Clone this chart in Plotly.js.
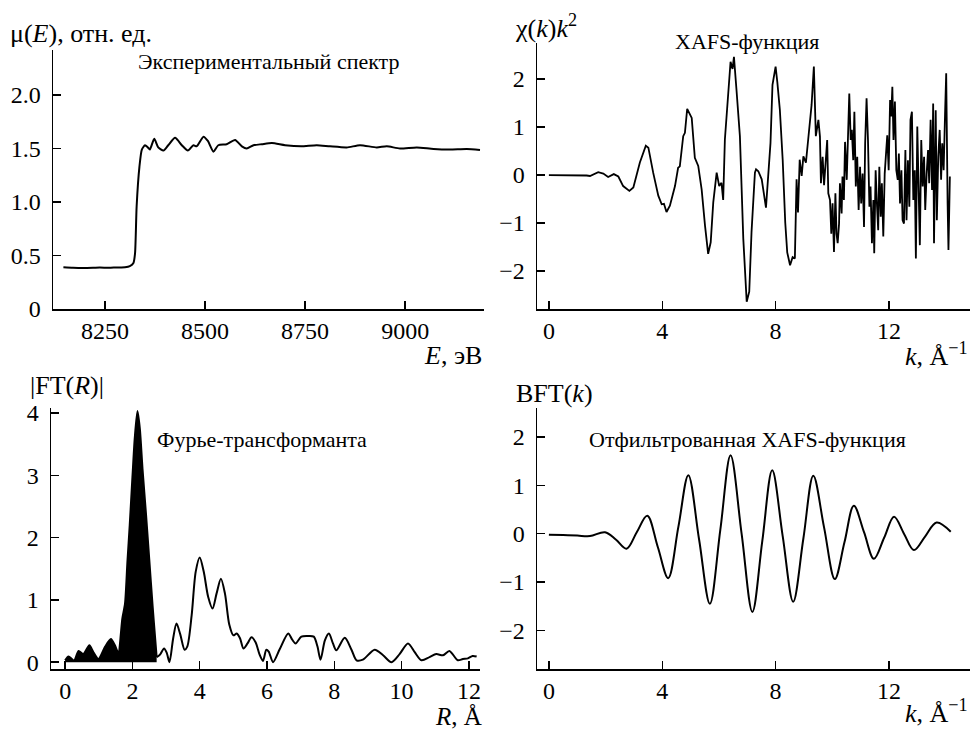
<!DOCTYPE html>
<html>
<head>
<meta charset="utf-8">
<script src="https://cdn.plot.ly/plotly-3.0.1.min.js"></script>
<style>html,body{margin:0;padding:0;background:#fff;}#chart{width:971px;height:729px;}</style>
</head>
<body>
<div id="chart"></div>
<script>
// ---- Panel (a): experimental spectrum mu(E)
const energyEV = [8146, 8170, 8196, 8220, 8237, 8260, 8279, 8300, 8312, 8321, 8325, 8329, 8336, 8342, 8350, 8357, 8362, 8373, 8383, 8396, 8408, 8425, 8442, 8457, 8471, 8479, 8496, 8507, 8521, 8533, 8554, 8575, 8592, 8604, 8621, 8642, 8667, 8700, 8740, 8779, 8812, 8854, 8887, 8929, 8954, 8987, 9029, 9071, 9112, 9154, 9187];
const muE = [0.39, 0.385, 0.383, 0.385, 0.387, 0.385, 0.388, 0.39, 0.40, 0.43, 0.52, 0.96, 1.33, 1.49, 1.53, 1.51, 1.49, 1.59, 1.51, 1.48, 1.53, 1.60, 1.53, 1.48, 1.53, 1.52, 1.61, 1.57, 1.47, 1.53, 1.54, 1.58, 1.52, 1.50, 1.53, 1.54, 1.55, 1.53, 1.52, 1.53, 1.52, 1.51, 1.53, 1.51, 1.52, 1.50, 1.51, 1.495, 1.49, 1.495, 1.486];

// ---- Panel (b): XAFS function chi(k)k^2
const kXafs = [0, 0.5, 1.0, 1.33, 1.45, 1.74, 1.92, 2.09, 2.29, 2.45, 2.62, 2.84, 2.98, 3.09, 3.21, 3.42, 3.51, 3.68, 3.86, 3.98, 4.06, 4.15, 4.27, 4.45, 4.56, 4.62, 4.74, 4.80, 4.88, 5.04, 5.15, 5.27, 5.39, 5.51, 5.62, 5.71, 5.80, 5.92, 6.01, 6.09, 6.15, 6.21, 6.31, 6.41, 6.48, 6.53, 6.62, 6.74, 6.86, 6.98, 7.07, 7.15, 7.27, 7.31, 7.39, 7.51, 7.66, 7.74, 7.82, 7.89, 8.0, 8.06, 8.15, 8.25, 8.34, 8.41, 8.51, 8.60, 8.68, 8.74, 8.79, 8.85, 8.92, 8.98, 9.07, 9.15, 9.21, 9.27, 9.35, 9.42, 9.51,
  9.565, 9.60, 9.66, 9.71, 9.765, 9.82, 9.86, 9.92, 9.965, 10.01,
  10.06, 10.11, 10.15, 10.19, 10.24, 10.27, 10.33, 10.36, 10.41, 10.45,
  10.51, 10.55, 10.60, 10.65, 10.69, 10.74, 10.78, 10.83, 10.88, 10.93,
  10.98, 11.02, 11.07, 11.12, 11.16, 11.21, 11.26, 11.31, 11.35, 11.40,
  11.45, 11.48, 11.53, 11.58, 11.62, 11.66, 11.71, 11.75, 11.80, 11.85,
  11.89, 11.94, 11.99, 12.04, 12.08, 12.12, 12.16, 12.21, 12.26, 12.31,
  12.35, 12.39, 12.44, 12.48, 12.53, 12.58, 12.62, 12.67, 12.72, 12.76,
  12.81, 12.86, 12.91, 12.95, 13.0, 13.05, 13.09, 13.14, 13.19, 13.24,
  13.28, 13.33, 13.38, 13.42, 13.47, 13.52, 13.56, 13.59, 13.65, 13.69,
  13.74, 13.79, 13.84, 13.88, 13.93, 13.98, 14.02, 14.07, 14.10, 14.15];
const chiK2 = [0, 0, -0.01, -0.01, -0.02, 0.06, 0.03, -0.04, 0.02, -0.03, -0.23, -0.33, -0.26, -0.02, 0.26, 0.61, 0.57, 0.05, -0.43, -0.61, -0.60, -0.77, -0.64, -0.23, 0.15, 0.18, 0.81, 0.88, 1.38, 1.19, 0.36, 0.19, -0.30, -1.06, -1.64, -1.40, -0.57, 0.05, -0.23, -0.16, -0.52, 0.74, 1.57, 2.36, 2.21, 2.46, 1.77, 0.81, -1.33, -2.64, -2.43, -1.19, 0.05, 0.12, 0.08, -0.09, -0.68, 0.05, 0.67, 1.88, 2.26, 1.94, 1.36, 0.32, -0.99, -1.61, -1.88, -1.71, -1.74, -0.09, -0.78, 0.32, -0.02, 0.39, 0.26, 0.74, 1.15, 1.46, 2.26, 0.81, 1.15,
  0.80, -0.17, 0.38, -0.21, 0.17, 0.73, -0.38, -0.52, -1.22, -0.59,
  -1.60, -0.38, -1.22, -1.42, -1.01, -0.17, -0.80, -0.03, -0.52, 0.69,
  -0.10, 1.01, 1.70, 0.73, 0.94, 0.31, 1.32, -0.24, 0.38, -0.73,
  0.17, -0.59, 0.03, -1.08, 0.66, 1.60, 0.73, -0.66, -0.24, -1.42,
  -0.52, -1.63, 0.10, -0.66, -1.15, 0.17, -0.87, -0.17, -1.28, 0.03,
  0.45, 0.83, 0.10, 1.56, 1.22, 1.84, 0.73, 1.53, 0.10, -0.10,
  0.45, -0.59, 0.10, -0.94, -1.01, 0.52, -0.94, 0.31, -0.66, 1.15,
  1.32, -0.52, 0.10, -1.74, 1.01, -0.87, -1.46, 0.73, -0.24, 0.38,
  -0.73, 0.03, 0.52, -0.17, 1.15, -0.31, 1.49, -1.42, 1.35, -0.94,
  0.38, 0.94, -0.10, 0.66, 0.10, 1.28, 2.12, -0.59, -1.56, -0.03];

// ---- Panel (c): Fourier transform |FT(R)| (filled part = first shell)
const rFilled = [0.0, 0.10, 0.20, 0.27, 0.40, 0.54, 0.72, 0.84, 0.99, 1.19, 1.36, 1.48, 1.58, 1.70, 1.78, 1.85, 1.92, 2.0, 2.07, 2.15, 2.22, 2.30, 2.40, 2.50, 2.60, 2.68, 2.72];
const ftFilled = [0.03, 0.09, 0.05, 0.02, 0.18, 0.13, 0.27, 0.16, 0.05, 0.25, 0.37, 0.27, 0.15, 0.70, 0.94, 1.6, 2.2, 2.97, 3.6, 4.03, 3.75, 3.1, 2.4, 1.65, 0.9, 0.35, 0.08];
const rRest = [2.72, 2.82, 2.94, 3.02, 3.10, 3.21, 3.31, 3.42, 3.55, 3.63, 3.76, 3.88, 4.0, 4.12, 4.25, 4.38, 4.50, 4.63, 4.75, 4.88, 5.0, 5.1, 5.2, 5.3, 5.42, 5.54, 5.66, 5.78, 5.88, 5.98, 6.05, 6.18, 6.38, 6.63, 6.75, 6.85, 7.02, 7.22, 7.39, 7.50, 7.59, 7.72, 7.84, 7.96, 8.06, 8.31, 8.51, 8.66, 8.85, 9.20, 9.45, 9.70, 9.94, 10.19, 10.39, 10.59, 10.83, 11.03, 11.23, 11.42, 11.67, 11.82, 11.97, 12.11, 12.23];
const ftRest = [0.08, 0.12, 0.22, 0.15, 0.0, 0.38, 0.62, 0.45, 0.20, 0.25, 0.75, 1.45, 1.68, 1.45, 1.05, 0.86, 1.1, 1.34, 1.1, 0.6, 0.43, 0.46, 0.38, 0.22, 0.30, 0.40, 0.32, 0.12, 0.02, 0.20, 0.17, 0.0, 0.21, 0.46, 0.36, 0.30, 0.41, 0.42, 0.41, 0.25, 0.04, 0.35, 0.46, 0.30, 0.19, 0.39, 0.20, 0.03, 0.04, 0.20, 0.11, 0.0, 0.13, 0.30, 0.16, 0.03, 0.08, 0.13, 0.11, 0.18, 0.03, 0.05, 0.06, 0.10, 0.09];

// ---- Panel (d): filtered XAFS function BFT(k)
const kBft = [0, 0.5, 1.0, 1.45, 1.98, 2.36, 2.74, 3.1, 3.47, 3.84, 4.21, 4.57, 4.92, 5.30, 5.68, 6.05, 6.41, 6.80, 7.18, 7.53, 7.88, 8.25, 8.62, 8.98, 9.33, 9.71, 10.09, 10.43, 10.76, 11.12, 11.47, 11.83, 12.18, 12.53, 12.88, 13.28, 13.68, 14.18];
const bftK = [-0.02, -0.03, -0.04, -0.05, 0.03, -0.12, -0.31, 0.03, 0.37, -0.27, -0.92, 0.145, 1.21, -0.12, -1.45, 0.085, 1.62, 0.0, -1.62, -0.155, 1.31, -0.05, -1.41, -0.1, 1.20, 0.13, -0.94, -0.18, 0.58, 0.03, -0.52, -0.085, 0.35, 0.0, -0.34, -0.055, 0.23, 0.04];

// ---- Tick labels
const tickE = [8250, 8500, 8750, 9000];
const tickMuVals = [0, 0.5, 1.0, 1.5, 2.0];
const tickMuText = ['0', '0.5', '1.0', '1.5', '2.0'];
const tickKVals = [0, 4, 8, 12];
const tickChiVals = [-2, -1, 0, 1, 2];
const tickChiText = ['\u22122', '\u22121', '0', '1', '2'];
const tickRVals = [0, 2, 4, 6, 8, 10, 12];
const tickFTVals = [0, 1, 2, 3, 4];

const W = 971, H = 729;
const px = x => x / W;
const py = y => 1 - y / H;
const serif = 'Liberation Serif';
const tickFont = {family: serif, size: 24, color: '#000'};

function axisBase(extra) {
  return Object.assign({
    showline: true, linecolor: '#000', linewidth: 1.5, mirror: false,
    showgrid: false, zeroline: false,
    ticks: 'inside', ticklen: 8, tickwidth: 1.5, tickcolor: '#000',
    tickfont: tickFont, fixedrange: true
  }, extra);
}

const traces = [
  {x: energyEV, y: muE, xaxis: 'x', yaxis: 'y', mode: 'lines', line: {color: '#000', width: 2, shape: 'spline', smoothing: 0.6}, hoverinfo: 'skip'},
  {x: kXafs, y: chiK2, xaxis: 'x2', yaxis: 'y2', mode: 'lines', line: {color: '#000', width: 1.8}, hoverinfo: 'skip'},
  {x: rFilled, y: ftFilled, xaxis: 'x3', yaxis: 'y3', mode: 'lines', fill: 'tozeroy', fillcolor: '#000', line: {color: '#000', width: 2, shape: 'spline', smoothing: 0.7}, hoverinfo: 'skip'},
  {x: rRest, y: ftRest, xaxis: 'x3', yaxis: 'y3', mode: 'lines', line: {color: '#000', width: 2, shape: 'spline', smoothing: 0.8}, hoverinfo: 'skip'},
  {x: kBft, y: bftK, xaxis: 'x4', yaxis: 'y4', mode: 'lines', line: {color: '#000', width: 2, shape: 'spline', smoothing: 1}, hoverinfo: 'skip'}
];

const ann = (text, x, y, xanchor, size) => ({
  text, x: px(x), y: py(y), xref: 'paper', yref: 'paper', xanchor, yanchor: 'middle',
  showarrow: false, font: {family: serif, size, color: '#000'}
});

const layout = {
  width: W, height: H, margin: {l: 0, r: 0, t: 0, b: 0},
  paper_bgcolor: '#fff', plot_bgcolor: '#fff', showlegend: false,
  font: {family: serif, color: '#000'},
  xaxis: axisBase({domain: [px(53), px(484)], range: [8120, 9197], tickvals: tickE, anchor: 'y'}),
  yaxis: axisBase({domain: [py(309), py(50)], range: [0, 2.42], tickvals: tickMuVals, ticktext: tickMuText, anchor: 'x', ticklabelstandoff: 6}),
  xaxis2: axisBase({domain: [px(537), px(970)], range: [-0.42, 14.86], tickvals: tickKVals, anchor: 'y2'}),
  yaxis2: axisBase({domain: [py(309), py(43)], range: [-2.79, 2.75], tickvals: tickChiVals, ticktext: tickChiText, anchor: 'x2', ticklabelstandoff: 6}),
  xaxis3: axisBase({domain: [px(51), px(480)], range: [-0.42, 12.33], tickvals: tickRVals, anchor: 'y3'}),
  yaxis3: axisBase({domain: [py(669), py(408)], range: [-0.11, 4.08], tickvals: tickFTVals, anchor: 'x3', ticklabelstandoff: 6}),
  xaxis4: axisBase({domain: [px(537), px(970)], range: [-0.42, 14.86], tickvals: tickKVals, anchor: 'y4'}),
  yaxis4: axisBase({domain: [py(669), py(408)], range: [-2.8, 2.6], tickvals: tickChiVals, ticktext: tickChiText, anchor: 'x4', ticklabelstandoff: 6}),
  annotations: [
    ann('\u03bc(<i>E</i>), отн. ед.', 8, 33, 'left', 26),
    ann('<i>E</i>, эВ', 484, 356, 'right', 26),
    ann('\u03c7(<i>k</i>)<i>k</i><sup>2</sup>', 513, 27, 'left', 26),
    ann('<i>k</i>, Å<sup>\u22121</sup>', 970, 354, 'right', 26),
    ann('|FT(<i>R</i>)|', 28, 385, 'left', 26),
    ann('<i>R</i>, Å', 484, 716, 'right', 25),
    ann('BFT(<i>k</i>)', 514, 393, 'left', 26),
    ann('<i>k</i>, Å<sup>\u22121</sup>', 970, 711, 'right', 26),
    ann('Экспериментальный спектр', 268, 61, 'center', 22),
    ann('XAFS-функция', 747, 42, 'center', 22),
    ann('Фурье-трансформанта', 262, 440, 'center', 22),
    ann('Отфильтрованная XAFS-функция', 747, 439, 'center', 22)
  ]
};

Plotly.newPlot('chart', traces, layout, {staticPlot: true, displayModeBar: false});
</script>
</body>
</html>
